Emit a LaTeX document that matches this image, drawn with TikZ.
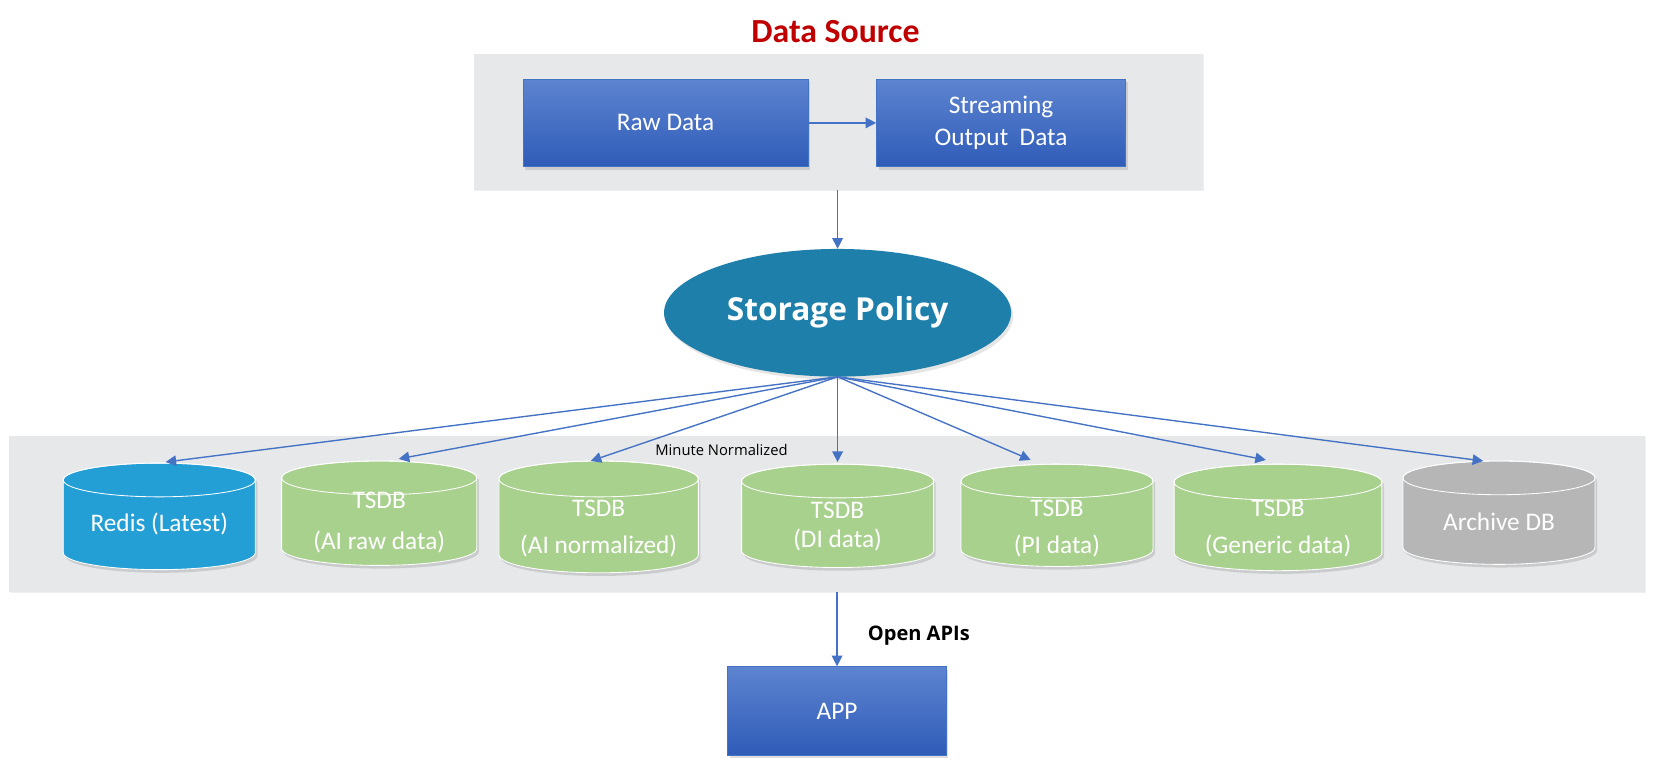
\documentclass[tikz,border=0pt]{standalone}
\usepackage{fontspec}
\setmainfont{Carlito}
\newfontfamily\osans{Open Sans}
\usetikzlibrary{shapes.geometric,arrows.meta,shadows}
\definecolor{panelgray}{RGB}{231,232,234}
\definecolor{boxtop}{RGB}{93,132,208}
\definecolor{boxbot}{RGB}{47,92,184}
\definecolor{boxborder}{RGB}{68,114,196}
\definecolor{arrowblue}{RGB}{68,114,196}
\definecolor{policyblue}{RGB}{29,127,170}
\definecolor{redisblue}{RGB}{35,159,213}
\definecolor{tsdbgreen}{RGB}{169,209,142}
\definecolor{archgray}{RGB}{182,182,182}
\definecolor{titlered}{RGB}{192,0,0}
\newcommand\dbcyl[7]{%
  \pgfmathsetmacro\cylrx{(#2-#1)/2}%
  \pgfmathsetmacro\cylcx{(#2+#1)/2}%
  \fill[black,opacity=0.12] (#1+2,#3+#5+3) -- (#1+2,#4-#5+3)
    arc[start angle=180,end angle=360,x radius=\cylrx pt,y radius=#5 pt]
    -- (#2+2,#3+#5+3)
    arc[start angle=0,end angle=180,x radius=\cylrx pt,y radius=#5 pt] -- cycle;
  \path[fill=#6, draw=white, line width=0.8pt] (#1,#3+#5) -- (#1,#4-#5)
    arc[start angle=180,end angle=360,x radius=\cylrx pt,y radius=#5 pt]
    -- (#2,#3+#5)
    arc[start angle=0,end angle=180,x radius=\cylrx pt,y radius=#5 pt] -- cycle;
  \draw[white, line width=0.8pt] (\cylcx,#3+#5) ellipse[x radius=\cylrx pt, y radius=#5 pt];
  \node[inner sep=0pt, minimum width=2*\cylrx pt, minimum height=(#4-#3)*1pt] (#7) at (\cylcx,{(#3+#4)/2}) {};
}
\tikzset{
  panel/.style={fill=panelgray, draw=none, inner sep=0pt,
    drop shadow={opacity=0.12, shadow xshift=1.5pt, shadow yshift=-1.5pt}},
  bluebox/.style={draw=boxborder, line width=0.8pt, top color=boxtop, bottom color=boxbot,
    text=white, inner sep=0pt, align=center,
    font=\fontsize{24}{30}\selectfont,
    drop shadow={opacity=0.25, shadow xshift=2pt, shadow yshift=-3pt}},
  arr/.style={draw=arrowblue, line width=1.3pt, -{Triangle[length=10pt,width=10pt]}},
  cyltext/.style={text=white, inner sep=0pt, font=\fontsize{24}{28}\selectfont},
}
\begin{document}
\begin{tikzpicture}[x=1pt,y=-1pt]
\useasboundingbox[fill=white] (0,0) rectangle (1567,730);
% title
\node[text=titlered, font=\fontsize{32}{36}\bfseries\selectfont] (title) at (792,30) {Data Source};
% top panel
\node[panel, minimum width=691pt, minimum height=129pt] (srcp) at (794.5,115.5) {};
\node[bluebox, minimum width=270pt, minimum height=83pt] (raw) at (631,116.5) {Raw Data};
\node[bluebox, minimum width=236pt, minimum height=83pt] (stream) at (949,116.5) {Streaming\\Output\ \ Data};
\draw[arr] (raw.east) -- (stream.west);
% storage policy
\node[ellipse, fill=policyblue, minimum width=329pt, minimum height=121pt, inner sep=0pt,
  text=white, font=\osans\fontsize{30}{34}\bfseries\selectfont,
  drop shadow={opacity=0.2, shadow xshift=2pt, shadow yshift=-3pt}] (sp) at (794,296.5) {Storage Policy};
\draw[arr] (srcp.south -| sp.north) -- (sp.north);
% bottom panel
\node[panel, minimum width=1550pt, minimum height=148pt] (dbp) at (784,487) {};
% cylinders
\dbcyl{60}{242}{439}{540}{16}{redisblue}{c1}
\dbcyl{267}{452}{437}{536}{16}{tsdbgreen}{c2}
\dbcyl{473}{662}{437}{543}{17}{tsdbgreen}{c3}
\dbcyl{703}{885}{440}{538}{16}{tsdbgreen}{c4}
\dbcyl{911}{1093}{440}{537}{16}{tsdbgreen}{c5}
\dbcyl{1113}{1310}{440}{541}{17}{tsdbgreen}{c6}
\dbcyl{1330}{1512}{437}{535}{16}{archgray}{c7}
% cylinder texts
\node[cyltext] (t1) at (151,497) {Redis (Latest)};
\node[cyltext] (t2a) at (359.5,474) {TSDB};
\node[cyltext] (t2b) at (359.5,514) {(AI raw data)};
\node[cyltext] (t3a) at (567.5,482) {TSDB};
\node[cyltext] (t3b) at (567.5,518) {(AI normalized)};
\node[cyltext] (t4a) at (794,484) {TSDB};
\node[cyltext] (t4b) at (794,512) {(DI data)};
\node[cyltext] (t5a) at (1002,482) {TSDB};
\node[cyltext] (t5b) at (1002,518) {(PI data)};
\node[cyltext] (t6a) at (1211.5,482) {TSDB};
\node[cyltext] (t6b) at (1211.5,518) {(Generic data)};
\node[cyltext] (t7) at (1421,495) {Archive DB};
\node[inner sep=0pt, font=\osans\fontsize{14}{16}\selectfont] (mn) at (684,427) {Minute Normalized};
% arrow targets
\coordinate (a1) at (157,438);
\coordinate (a2) at (378,435);
\coordinate (a3) at (560,437);
\coordinate (a4) at (794,438);
\coordinate (a5) at (977,436);
\coordinate (a6) at (1200,436);
\coordinate (a7) at (1406,437);
\foreach \i in {1,...,7} { \draw[arr] (sp.south) -- (a\i); }
% APP
\node[bluebox, minimum width=207pt, minimum height=84pt] (app) at (793.5,674) {APP};
\draw[arr] (dbp.south -| app.north) -- (app.north);
\node[inner sep=0pt, font=\osans\fontsize{19}{22}\bfseries\selectfont] (api) at (871,603) {Open APIs};
\end{tikzpicture}
\end{document}
